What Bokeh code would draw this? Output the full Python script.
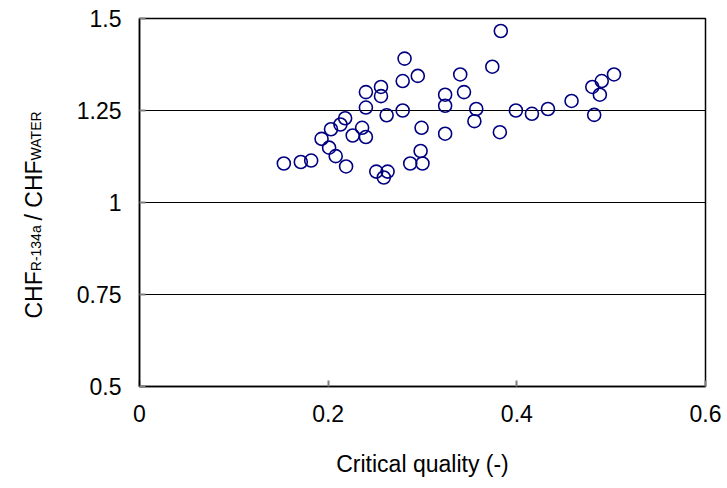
import math
from bokeh.plotting import figure
from bokeh.layouts import row
from bokeh.models import FixedTicker, Range1d
from bokeh.core.properties import value
from bokeh.embed import file_html
from bokeh.resources import INLINE

# Data
critical_quality = [0.281, 0.279, 0.295, 0.240, 0.256, 0.256, 0.240, 0.279, 0.262, 0.218,
                    0.213, 0.203, 0.193, 0.236, 0.226, 0.240, 0.201, 0.208, 0.153, 0.171,
                    0.182, 0.219, 0.251, 0.263, 0.259, 0.287, 0.300, 0.298, 0.299, 0.324,
                    0.324, 0.324, 0.340, 0.344, 0.374, 0.357, 0.355, 0.382, 0.399, 0.416,
                    0.433, 0.458, 0.480, 0.490, 0.503, 0.488, 0.482, 0.383]
chf_ratio = [1.391, 1.330, 1.344, 1.300, 1.314, 1.289, 1.258, 1.250, 1.237, 1.229,
             1.212, 1.199, 1.173, 1.203, 1.182, 1.178, 1.149, 1.126, 1.106, 1.110,
             1.114, 1.098, 1.084, 1.084, 1.068, 1.106, 1.106, 1.140, 1.203, 1.293,
             1.263, 1.187, 1.348, 1.300, 1.369, 1.254, 1.221, 1.191, 1.250, 1.241,
             1.254, 1.276, 1.314, 1.330, 1.348, 1.293, 1.238, 1.466]

x_ticks = [0, 0.2, 0.4, 0.6]
x_tick_labels = ["0", "0.2", "0.4", "0.6"]
y_ticks = [0.5, 0.75, 1.0, 1.25, 1.5]
y_tick_labels = ["0.5", "0.75", "1", "1.25", "1.5"]
y_title_parts = ["CHF", "R-134a", "/ CHF", "WATER"]

FONT = "Liberation Sans"
TICK_SIZE = 23
TITLE_SIZE = 23
SUB_SIZE = 14

W, H = 727, 488
TITLE_W = 60
FRAME_TOP, FRAME_BOTTOM = 18, 386

# ---- left strip holding the y axis title (with subscripts) ----
# Its frame is aligned with the main plot's frame by the row layout,
# so the y range is chosen to give 1 data unit = 1 pixel (y = H - canvas_y).
t = figure(width=TITLE_W, height=H, output_backend="svg", toolbar_location=None,
           x_range=Range1d(0, TITLE_W), y_range=Range1d(H - FRAME_BOTTOM, H - FRAME_TOP),
           min_border=0, x_axis_type=None, y_axis_type=None)
t.outline_line_color = None
t.grid.visible = False
t.background_fill_color = "white"
t.border_fill_color = "white"

sizes = [TITLE_SIZE, SUB_SIZE, TITLE_SIZE, SUB_SIZE]
xoffs = [33, 35, 33, 35]
ems = [2.055, 3.279 + 0.35, 2.611, 3.611]
ypix = 318.0
for text, size, xx, em in zip(y_title_parts, sizes, xoffs, ems):
    t.text(x=[xx], y=[H - ypix], text=[text], angle=math.pi / 2,
           text_font=value(FONT), text_font_size=f"{size}px",
           text_align="left", text_baseline="alphabetic", text_color="black")
    ypix -= em * size

# ---- main plot ----
p = figure(width=W - TITLE_W, height=H, output_backend="svg", toolbar_location=None,
           x_range=Range1d(0, 0.6), y_range=Range1d(0.5, 1.5),
           min_border_left=139 - TITLE_W, min_border_right=22, min_border_top=FRAME_TOP,
           min_border_bottom=H - FRAME_BOTTOM)

p.background_fill_color = "white"
p.border_fill_color = "white"
p.outline_line_color = "black"
p.outline_line_width = 1.5

p.xgrid.visible = False
p.ygrid.ticker = FixedTicker(ticks=[0.75, 1.0, 1.25])
p.ygrid.grid_line_color = "black"
p.ygrid.grid_line_width = 1.2

for ax in (p.xaxis[0], p.yaxis[0]):
    ax.axis_line_color = "black"
    ax.axis_line_width = 1.5
    ax.major_tick_in = 6
    ax.major_tick_out = 0
    ax.minor_tick_line_color = None
    ax.major_tick_line_color = "#808080"
    ax.major_tick_line_width = 2
    ax.major_label_text_font = FONT
    ax.major_label_text_font_size = f"{TICK_SIZE}px"
    ax.major_label_text_color = "black"

p.xaxis.ticker = FixedTicker(ticks=x_ticks)
p.xaxis.major_label_overrides = {t_: l for t_, l in zip(x_ticks, x_tick_labels)}
p.xaxis.major_label_standoff = 18
p.xaxis.axis_label = "Critical quality (-)"
p.xaxis.axis_label_text_font = FONT
p.xaxis.axis_label_text_font_size = f"{TITLE_SIZE}px"
p.xaxis.axis_label_text_font_style = "normal"
p.xaxis.axis_label_text_color = "black"
p.xaxis.axis_label_standoff = 26

p.yaxis.ticker = FixedTicker(ticks=y_ticks)
p.yaxis.major_label_overrides = {t_: l for t_, l in zip(y_ticks, y_tick_labels)}
p.yaxis.major_label_standoff = 18

p.scatter(critical_quality, chf_ratio, marker="circle", size=13,
          fill_color=None, line_color="#000080", line_width=1.6)

layout = row(t, p, spacing=0)
open("out.html", "w").write(file_html(layout, INLINE))
